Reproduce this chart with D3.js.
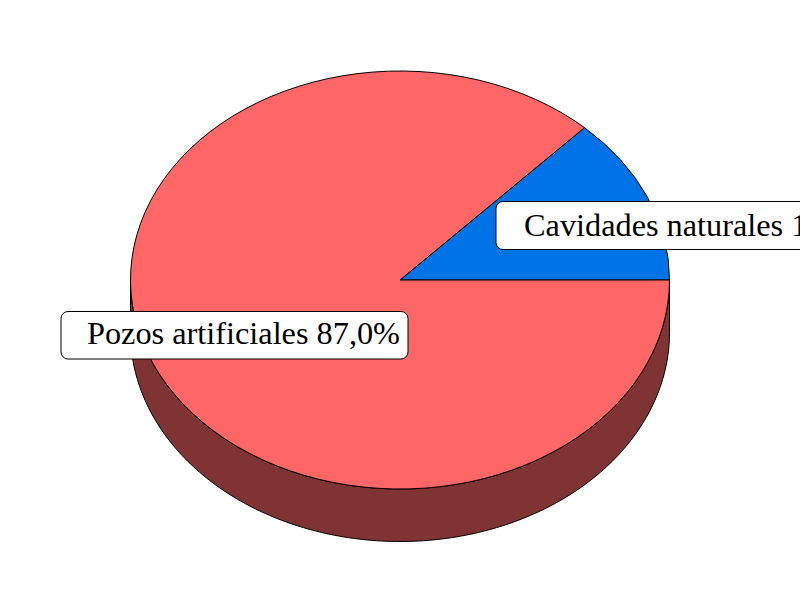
<!DOCTYPE html>
<html><head><meta charset="utf-8">
<script src="https://cdn.jsdelivr.net/npm/d3@7"></script>
<style>html,body{margin:0;padding:0;background:#fff;overflow:hidden}svg{display:block}</style>
</head><body><svg id="c" width="800" height="600"></svg>
<script>
const categories = ["Cavidades naturales", "Pozos artificiales"];
const values = [13.0, 87.0];
const colors = ["#0073E6", "#FF6666"];
const sideColor = "#803333";

const svg = d3.select("#c");
const cx = 400, cy = 280, rx = 269.5, ry = 209, depth = 52.5;
const fmt = v => v.toFixed(1).replace(".", ",") + "%";

// Angles counted clockwise from the top; the first slice ends at 3 o'clock.
const pie = d3.pie().sort(null).startAngle(Math.PI/2 - 2*Math.PI*values[0]/100)
  .endAngle(Math.PI/2 - 2*Math.PI*values[0]/100 + 2*Math.PI);
const arcs = pie(values);
const arc = d3.arc().innerRadius(0).outerRadius(rx);

// Side wall: front half of the ellipse, extruded downward
const angles = d3.range(0, 181).map(d => d * Math.PI / 180);
svg.append("path").datum(angles)
  .attr("d", d3.area()
    .x(a => cx + rx * Math.cos(a))
    .y0(a => cy + ry * Math.sin(a))
    .y1(a => cy + ry * Math.sin(a) + depth))
  .attr("fill", sideColor).attr("stroke", "#000").attr("stroke-width", 1);

// Top face
svg.append("g").attr("transform", `translate(${cx},${cy}) scale(1,${ry/rx})`)
  .selectAll("path").data(arcs).join("path")
  .attr("d", arc).attr("fill", (d,i) => colors[i])
  .attr("stroke", "#000").attr("stroke-width", 1)
  .attr("vector-effect", "non-scaling-stroke");

// Labels
const labelBoxes = [
  {x: 496, y: 201.5, w: 340, h: 48, tx: 524, ty: 236},
  {x: 61, y: 311.5, w: 347, h: 47.5, tx: 87, ty: 344}
];
const g = svg.selectAll("g.label").data(arcs).join("g").attr("class", "label");
g.append("rect")
  .attr("x", (d,i) => labelBoxes[i].x).attr("y", (d,i) => labelBoxes[i].y)
  .attr("width", (d,i) => labelBoxes[i].w).attr("height", (d,i) => labelBoxes[i].h)
  .attr("rx", 7).attr("fill", "#fff").attr("stroke", "#000").attr("stroke-width", 1);
g.append("text")
  .attr("x", (d,i) => labelBoxes[i].tx).attr("y", (d,i) => labelBoxes[i].ty)
  .attr("font-family", "'Liberation Serif', serif").attr("font-size", 32.3).attr("fill", "#000")
  .text((d,i) => categories[i] + " " + fmt(values[i]));
</script></body></html>
